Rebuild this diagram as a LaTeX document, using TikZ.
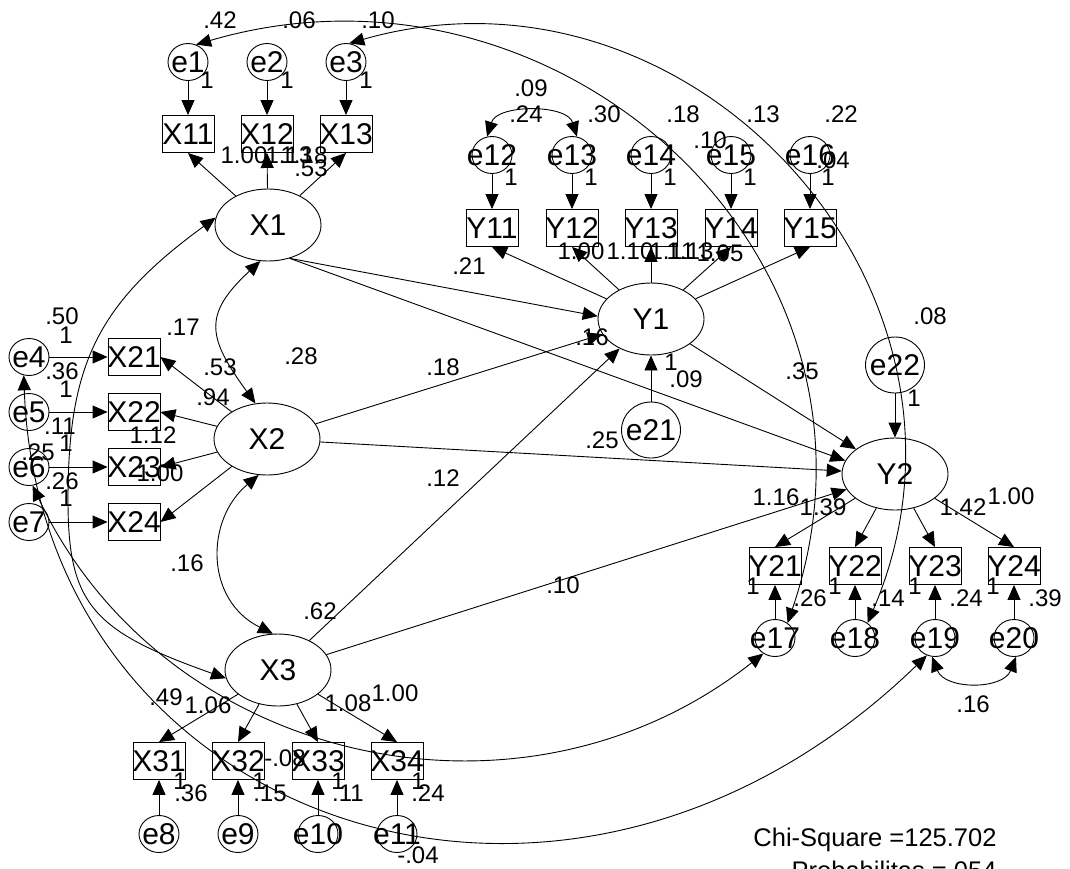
\documentclass[tikz,border=0pt]{standalone}
\usepackage{fontspec}
\setmainfont{Liberation Sans}
\usetikzlibrary{shapes.geometric,arrows.meta}
\newcommand\nf{\fontsize{30}{30}\selectfont}
\newcommand\lf{\fontsize{24}{24}\selectfont}
\newcommand\cf{\fontsize{25.5}{25.5}\selectfont}
\begin{document}
\begin{tikzpicture}[x=1pt,y=-1pt,line width=0.9pt,
 arr/.style={-{Triangle[length=15pt,width=13pt]}},
 cov/.style={{Triangle[length=15pt,width=13pt]}-{Triangle[length=15pt,width=13pt]}},
 lat/.style={ellipse,draw,minimum width=106pt,minimum height=72pt,inner sep=0pt,font=\nf},
 obs/.style={rectangle,draw,minimum width=52pt,minimum height=37pt,inner sep=0pt},
 err/.style={ellipse,draw,minimum width=40pt,minimum height=37pt,inner sep=0pt},
 berr/.style={ellipse,draw,minimum width=59pt,minimum height=56pt,inner sep=0pt},
 tx/.style={label={[font=\nf,inner sep=0pt]center:#1}},
 num/.style={font=\lf,inner sep=0pt}]
\useasboundingbox (0,0) rectangle (1070,868);
% latent variables
\node[lat] (X1) at (268,225) {X1};
\node[lat] (X2) at (267,439) {X2};
\node[lat] (X3) at (278,670) {X3};
\node[lat] (Y1) at (651,319) {Y1};
\node[lat] (Y2) at (895,474) {Y2};
% observed
\node[obs,tx=X11] (X11) at (188,134) {};
\node[obs,tx=X12] (X12) at (267,134) {};
\node[obs,tx=X13] (X13) at (346,134) {};
\node[obs,tx=X21] (X21) at (134,357) {};
\node[obs,tx=X22] (X22) at (134,412) {};
\node[obs,tx=X23] (X23) at (134,467) {};
\node[obs,tx=X24] (X24) at (134,522) {};
\node[obs,tx=X31] (X31) at (159,761) {};
\node[obs,tx=X32] (X32) at (238,761) {};
\node[obs,tx=X33] (X33) at (318,761) {};
\node[obs,tx=X34] (X34) at (397,761) {};
\node[obs,tx=Y11] (Y11) at (492,228) {};
\node[obs,tx=Y12] (Y12) at (572,228) {};
\node[obs,tx=Y13] (Y13) at (651,228) {};
\node[obs,tx=Y14] (Y14) at (731,228) {};
\node[obs,tx=Y15] (Y15) at (810,228) {};
\node[obs,tx=Y21] (Y21) at (775,566) {};
\node[obs,tx=Y22] (Y22) at (855,566) {};
\node[obs,tx=Y23] (Y23) at (935,566) {};
\node[obs,tx=Y24] (Y24) at (1014,566) {};
% errors
\node[err,tx=e1] (e1) at (188,62) {};
\node[err,tx=e2] (e2) at (267,62) {};
\node[err,tx=e3] (e3) at (346,62) {};
\node[err,tx=e4] (e4) at (29,357) {};
\node[err,tx=e5] (e5) at (29,412) {};
\node[err,tx=e6] (e6) at (29,467) {};
\node[err,tx=e7] (e7) at (29,522) {};
\node[err,tx=e8] (e8) at (159,834) {};
\node[err,tx=e9] (e9) at (238,834) {};
\node[err,tx=e10] (e10) at (318,834) {};
\node[err,tx=e11] (e11) at (397,834) {};
\node[err,tx=e12] (e12) at (492,155) {};
\node[err,tx=e13] (e13) at (572,155) {};
\node[err,tx=e14] (e14) at (651,155) {};
\node[err,tx=e15] (e15) at (731,155) {};
\node[err,tx=e16] (e16) at (810,155) {};
\node[err,tx=e17] (e17) at (775,638) {};
\node[err,tx=e18] (e18) at (855,638) {};
\node[err,tx=e19] (e19) at (935,638) {};
\node[err,tx=e20] (e20) at (1014,638) {};
\node[berr,tx=e21] (e21) at (651,430) {};
\node[berr,tx=e22] (e22) at (895,365) {};
% error arrows
\foreach \a/\b in {e1/X11,e2/X12,e3/X13,e4/X21,e5/X22,e6/X23,e7/X24,e8/X31,e9/X32,e10/X33,e11/X34,e12/Y11,e13/Y12,e14/Y13,e15/Y14,e16/Y15,e17/Y21,e18/Y22,e19/Y23,e20/Y24,e21/Y1,e22/Y2}
  \draw[arr] (\a) -- (\b);
% loadings
\foreach \b in {X11,X12,X13} \draw[arr] (X1) -- (\b.south);
\foreach \b in {X21,X22,X23,X24} \draw[arr] (X2) -- (\b.east);
\foreach \b in {X31,X32,X33,X34} \draw[arr] (X3) -- (\b.north);
\foreach \b in {Y11,Y12,Y13,Y14,Y15} \draw[arr] (Y1) -- (\b.south);
\foreach \b in {Y21,Y22,Y23,Y24} \draw[arr] (Y2) -- (\b.north);
% structural
\draw[arr] (X1.-57) -- (Y1.177);
\draw[arr] (X1.-57) -- (Y2.165);
\draw[arr] (X2) -- (Y1);
\draw[arr] (X2) -- (Y2);
\draw[arr] (X3) -- (Y1);
\draw[arr] (X3) -- (Y2);
\draw[arr] (Y1) -- (Y2);
% covariances
\coordinate (c13) at (68,500);
\draw[cov] (X1.258) .. controls (202,315) and (208,338) .. (X2.108);
\draw[cov] (X2.257) .. controls (205,520) and (205,600) .. (X3.98);
\draw[cov] (X1.172) .. controls (97,304) and (68,365) .. (c13) .. controls (68,604) and (92,631) .. (X3.189);
\draw[cov] (e12.105) .. controls (497,104) and (567,104) .. (e13.75);
\draw[cov] (e19.261) .. controls (945,690) and (1003,690) .. (e20.276);
\draw[cov] (e1.65) .. controls (560,-62) and (912,259) .. (e17.50);
\draw[cov] (e3.80) .. controls (694,-55) and (1009,293) .. (e18.50);
\draw[cov] (e4.254) .. controls (40,820) and (560,1010) .. (e19.245);
\draw[cov] (e6.-79) .. controls (164,764) and (521,845) .. (e17.233);
% labels
\node[num] (n1) at (220,20) {.42};
\node[num] (n2) at (299,20) {.06};
\node[num] (n3) at (378,20) {.10};
\node[num] (n4) at (207,80) {1};
\node[num] (n5) at (287,80) {1};
\node[num] (n6) at (366,80) {1};
\node[num] (n7) at (244,155) {1.00};
\node[num] (n8) at (289,155) {1.13};
\node[num] (n9) at (304,155) {1.18};
\node[num] (n10) at (311,168) {.53};
\node[num] (n11) at (531,88) {.09};
\node[num] (n12) at (526,114) {.24};
\node[num] (n13) at (604,114) {.30};
\node[num] (n14) at (683,114) {.18};
\node[num] (n15) at (763,114) {.13};
\node[num] (n16) at (841,114) {.22};
\node[num] (n17) at (710,140) {.10};
\node[num] (n18) at (833,160) {.04};
\node[num] (n19) at (511,177) {1};
\node[num] (n20) at (591,177) {1};
\node[num] (n21) at (670,177) {1};
\node[num] (n22) at (750,177) {1};
\node[num] (n23) at (828,177) {1};
\node[num] (n24) at (469,266) {.21};
\node[num] (n25) at (581,251) {1.00};
\node[num] (n26) at (630,251) {1.10};
\node[num] (n27) at (672,251) {1.11};
\node[num] (n28) at (690,251) {1.13};
\node[num] (n29) at (720,253) {1.05};
\node[num] (n30) at (592,337) {.16};
\node[num] (n31) at (671,362) {1};
\node[num] (n32) at (686,379) {.09};
\node[num] (n33) at (602,440) {.25};
\node[num] (n34) at (443,367) {.18};
\node[num] (n35) at (443,478) {.12};
\node[num] (n36) at (563,585) {.10};
\node[num] (n37) at (802,371) {.35};
\node[num] (n38) at (930,316) {.08};
\node[num] (n39) at (914,398) {1};
\node[num] (n40) at (776,497) {1.16};
\node[num] (n41) at (823,507) {1.39};
\node[num] (n42) at (963,507) {1.42};
\node[num] (n43) at (1011,496) {1.00};
\node[num] (n44) at (753,586) {1};
\node[num] (n45) at (835,586) {1};
\node[num] (n46) at (915,586) {1};
\node[num] (n47) at (993,586) {1};
\node[num] (n48) at (810,598) {.26};
\node[num] (n49) at (888,598) {.14};
\node[num] (n50) at (966,598) {.24};
\node[num] (n51) at (1045,598) {.39};
\node[num] (n52) at (973,704) {.16};
\node[num] (n53) at (62,316) {.50};
\node[num] (n54) at (66,335) {1};
\node[num] (n55) at (62,371) {.36};
\node[num] (n56) at (66,389) {1};
\node[num] (n57) at (60,426) {.11};
\node[num] (n58) at (66,443) {1};
\node[num] (n59) at (38,452) {.25};
\node[num] (n60) at (62,481) {.26};
\node[num] (n61) at (66,498) {1};
\node[num] (n62) at (183,327) {.17};
\node[num] (n63) at (220,367) {.53};
\node[num] (n64) at (213,397) {.94};
\node[num] (n65) at (153,435) {1.12};
\node[num] (n66) at (160,473) {1.00};
\node[num] (n67) at (301,356) {.28};
\node[num] (n68) at (187,563) {.16};
\node[num] (n69) at (320,611) {.62};
\node[num] (n70) at (166,697) {.49};
\node[num] (n71) at (208,705) {1.06};
\node[num] (n72) at (348,703) {1.08};
\node[num] (n73) at (395,693) {1.00};
\node[num] (n74) at (285,758) {-.08};
\node[num] (n75) at (180,781) {1};
\node[num] (n76) at (259,781) {1};
\node[num] (n77) at (338,781) {1};
\node[num] (n78) at (418,781) {1};
\node[num] (n79) at (191,793) {.36};
\node[num] (n80) at (270,793) {.15};
\node[num] (n81) at (348,793) {.11};
\node[num] (n82) at (428,793) {.24};
\node[num] (n83) at (418,855) {-.04};
\node[font=\cf,inner sep=0pt,anchor=east] (chi) at (997,840) {Chi-Square =125.702};
\node[font=\cf,inner sep=0pt,anchor=east] (prob) at (997,870) {Probabilitas =.054};
\end{tikzpicture}
\end{document}
